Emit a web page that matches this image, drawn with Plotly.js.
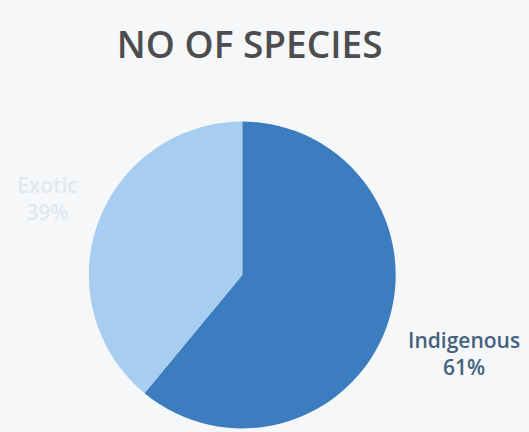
<!DOCTYPE html>
<html><head><meta charset="utf-8">
<script src="https://cdn.plot.ly/plotly-3.0.1.min.js"></script>
<style>html,body{margin:0;padding:0;background:#f6f7f9}</style>
</head><body><div id="chart" style="width:529px;height:432px"></div>
<script>
const categories = ["Indigenous", "Exotic"];
const values = [61, 39];
const sliceColors = ["#3b7dbf", "#a7cdf1"];
const labelColors = ["#44627f", "#dfe9f3"];
// label anchor positions (paper coords) for each slice
const labelPos = [[0.877, 0.182], [0.09, 0.54]];

const total = values.reduce((a, b) => a + b, 0);
const annotations = categories.map((c, i) => ({
  xref: "paper", yref: "paper",
  x: labelPos[i][0], y: labelPos[i][1],
  xanchor: "center", yanchor: "middle",
  showarrow: false,
  align: "center",
  text: c + "<br>" + Math.round(values[i] / total * 100) + "%",
  font: {family: "Open Sans, sans-serif", size: 21, color: labelColors[i], weight: 600}
}));

Plotly.newPlot("chart", [{
  type: "pie",
  labels: categories,
  values: values,
  sort: false,
  direction: "clockwise",
  rotation: 0,
  marker: {colors: sliceColors, line: {width: 0}},
  textinfo: "none",
  domain: {x: [0.168, 0.748], y: [0, 0.727]},
  showlegend: false,
  hoverinfo: "none"
}], {
  width: 529, height: 432,
  margin: {l: 0, r: 0, t: 0, b: 0},
  paper_bgcolor: "#f6f7f9",
  title: {text: "NO OF SPECIES", x: 0.472, xanchor: "center", y: 0.895, yanchor: "middle",
          font: {family: "Open Sans, sans-serif", size: 37, color: "#4d4d4f", weight: 600}},
  annotations: annotations,
  showlegend: false
}, {displayModeBar: false});
</script></body></html>
